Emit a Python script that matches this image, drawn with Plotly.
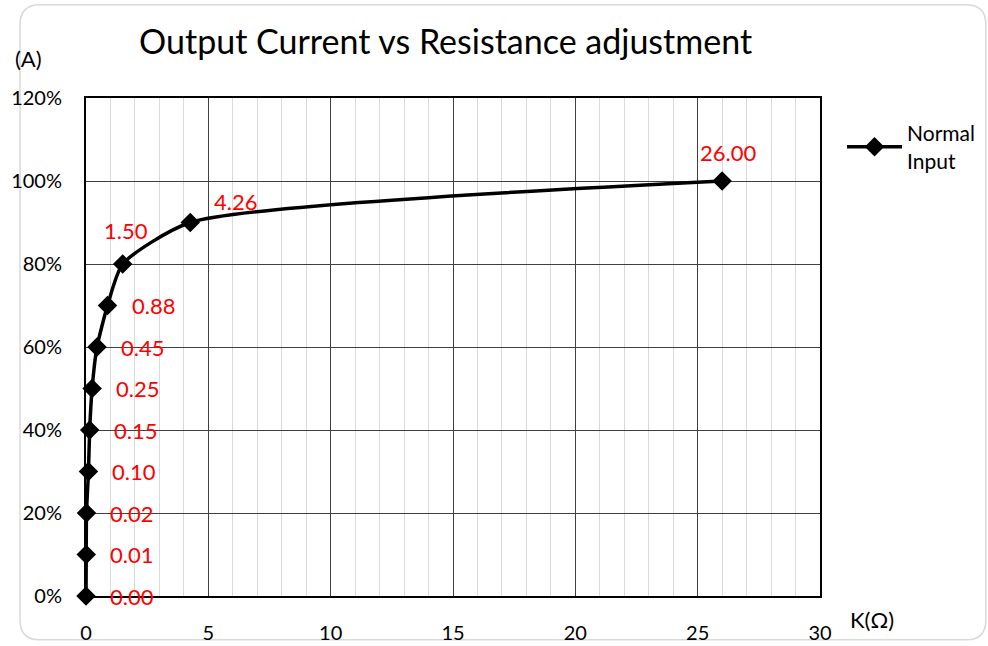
import plotly.graph_objects as go

resistance = [0.00, 0.01, 0.02, 0.10, 0.15, 0.25, 0.45, 0.88, 1.50, 4.26, 26.00]
current = [0.0, 0.1, 0.2, 0.3, 0.4, 0.5, 0.6, 0.7, 0.8, 0.9, 1.0]
label_text = ["0.00", "0.01", "0.02", "0.10", "0.15", "0.25", "0.45", "0.88", "1.50", "4.26", "26.00"]
x_ticks = [0, 5, 10, 15, 20, 25, 30]
y_ticks = [0, 0.2, 0.4, 0.6, 0.8, 1.0, 1.2]
y_tick_labels = ["0%", "20%", "40%", "60%", "80%", "100%", "120%"]

FONT = "Lato"

fig = go.Figure()
fig.add_trace(go.Scatter(
    x=resistance, y=current, mode="lines+markers", name="Normal<br>Input",
    line=dict(color="black", width=3.5, shape="spline", smoothing=0.6),
    marker=dict(symbol="diamond", size=15, color="black"),
    cliponaxis=False,
))

# data labels
for i, (xv, yv, t) in enumerate(zip(resistance, current, label_text)):
    if t == "1.50":
        xs, ys, xa = 3, 34, "center"
    elif t == "4.26":
        xs, ys, xa = 45, 21, "center"
    elif t == "26.00":
        xs, ys, xa = 6, 29, "center"
    else:
        xs, ys, xa = 22, 0, "left"
    fig.add_annotation(x=xv, y=yv, text=t, showarrow=False, xshift=xs, yshift=ys,
                       xanchor=xa, yanchor="middle",
                       font=dict(family=FONT, size=22, color="#ff0000"))

fig.add_annotation(xref="paper", yref="paper", x=-0.0777, y=1.080, text="(A)", showarrow=False,
                   xanchor="center", yanchor="middle", font=dict(family=FONT, size=22, color="black"))
fig.add_annotation(xref="paper", yref="paper", x=1.071, y=-0.048, text="K(Ω)", showarrow=False,
                   xanchor="center", yanchor="middle", font=dict(family=FONT, size=22, color="black"))

# chart area border (rounded)
x0, x1, y0, y1 = -0.0899, 1.226, -0.088, 1.187
rx, ry = 0.027, 0.040
path = (f"M {x0+rx},{y1} L {x1-rx},{y1} Q {x1},{y1} {x1},{y1-ry} L {x1},{y0+ry} "
        f"Q {x1},{y0} {x1-rx},{y0} L {x0+rx},{y0} Q {x0},{y0} {x0},{y0+ry} "
        f"L {x0},{y1-ry} Q {x0},{y1} {x0+rx},{y1} Z")
fig.add_shape(type="path", xref="paper", yref="paper", path=path,
              line=dict(color="#d9d9d9", width=1.5), layer="below")

fig.update_layout(
    width=988, height=646,
    paper_bgcolor="white", plot_bgcolor="white",
    margin=dict(l=86, r=168, t=98, b=50, autoexpand=False),
    title=dict(text="Output Current vs Resistance adjustment", x=0.451, xanchor="center",
               y=0.935, yanchor="middle", font=dict(family=FONT, size=34, color="black")),
    font=dict(family=FONT, size=20, color="black"),
    showlegend=True,
    legend=dict(x=1.03, y=0.97, xanchor="left", yanchor="top", bgcolor="rgba(0,0,0,0)",
                font=dict(family=FONT, size=21, color="black"), itemwidth=55),
    xaxis=dict(range=[0, 30], tickvals=x_ticks, showgrid=True, gridcolor="#404040", gridwidth=1,
               minor=dict(dtick=1, showgrid=True, gridcolor="#d9d9d9", gridwidth=1),
               showline=True, linecolor="black", linewidth=2, mirror=True, zeroline=False,
               ticks="", ticklabelstandoff=18, automargin=False, tickfont=dict(family=FONT, size=20)),
    yaxis=dict(range=[0, 1.2], tickvals=y_ticks, ticktext=y_tick_labels, showgrid=True,
               gridcolor="#404040", gridwidth=1,
               showline=True, linecolor="black", linewidth=2, mirror=True, zeroline=False,
               ticks="", ticklabelstandoff=18, automargin=False, tickfont=dict(family=FONT, size=20)),
)

fig.write_html("out.html", config={"displayModeBar": False},
               post_script="document.body.style.margin='0';")
